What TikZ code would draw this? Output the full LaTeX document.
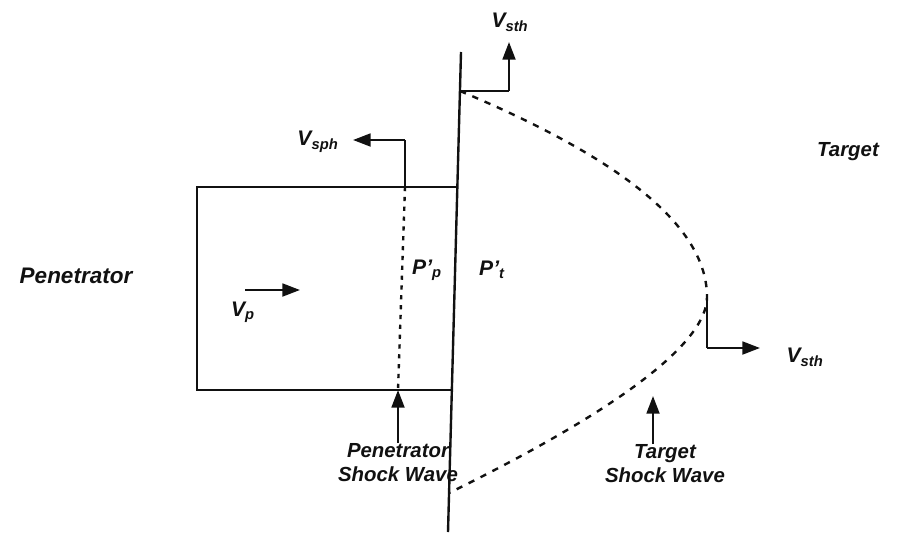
\documentclass[tikz,border=0pt]{standalone}
\usepackage{fontspec}
\setmainfont{Liberation Sans}
\usepackage{tikz}
\usetikzlibrary{arrows.meta,positioning,calc}
\definecolor{ink}{HTML}{111111}
\tikzset{
  wall/.style={draw=ink,line width=1.7pt},
  shockline/.style={draw=ink,line width=1.7pt,dash pattern=on 4.5pt off 5pt},
  pshock/.style={draw=ink,line width=1.7pt,dash pattern=on 3pt off 4pt},
  velarrow/.style={-{Triangle[length=4.4mm,width=3.2mm]},draw=ink,line width=1.7pt},
  biglabel/.style={font=\fontsize{16}{19}\selectfont\bfseries\itshape,text=ink,inner sep=0pt},
  smalllabel/.style={font=\fontsize{14.5}{17}\selectfont\bfseries\itshape,text=ink,inner sep=0pt,align=center},
  vlabel/.style={font=\fontsize{15}{18}\selectfont\bfseries\itshape,text=ink,inner sep=0pt}
}

\begin{document}
\begin{tikzpicture}[x=0.025cm,y=-0.025cm]
  \useasboundingbox (0,0) rectangle (898,532);

  % contact interface
  \coordinate (itop) at (461,52);
  \coordinate (ibot) at (448,532);
  \draw[wall] (itop) -- (ibot);

  % penetrator block
  \coordinate (rtl) at (197,187);
  \coordinate (rtr) at (457.3,187);
  \coordinate (rbl) at (197,390);
  \coordinate (rbr) at (451.9,390);
  \draw[wall] (rtr) -- (rtl) -- (rbl) -- (rbr);

  % penetrator shock wave
  \coordinate (pstop) at (405,187);
  \coordinate (psbot) at (398,390);
  \coordinate (pscorner) at (405,140);
  \coordinate (pstip) at (353,140);
  \draw[pshock] (pstop) -- (psbot);
  \draw[wall] (pstop) -- (pscorner);
  \draw[velarrow] (pscorner) -- (pstip);
  \node[vlabel] (vsph) at (318,142) {V\textsubscript{sph}};

  % target shock wave
  \coordinate (tstop) at (460,91);
  \coordinate (tsvert) at (707,297);
  \coordinate (tsbot) at (449,493);
  \draw[shockline] (tstop) .. controls (625,160) and (707,228) .. (tsvert)
    .. controls (707,342) and (622,408) .. (tsbot);

  \coordinate (upcorner) at (509,91);
  \coordinate (uptip) at (509,42);
  \draw[wall] (tstop) -- (upcorner);
  \draw[velarrow] (upcorner) -- (uptip);
  \node[vlabel] (vsthtop) at (510,22) {V\textsubscript{sth}};

  \coordinate (rtcorner) at (707,348);
  \coordinate (rttip) at (760,348);
  \draw[wall] (tsvert) -- (rtcorner);
  \draw[velarrow] (rtcorner) -- (rttip);
  \node[vlabel] (vsthright) at (805,357) {V\textsubscript{sth}};

  % region labels
  \node[biglabel] (pen) at (76,276) {Penetrator};
  \node[smalllabel] (tgt) at (848,152) {Target};
  \node[vlabel] (pp) at (427,270) {P\textquoteright\textsubscript{p}};
  \node[vlabel] (pt) at (492,270) {P\textquoteright\textsubscript{t}};

  % penetrator velocity
  \node[vlabel] (vp) at (243,312) {V\textsubscript{p}};
  \coordinate (vpstart) at (245,290);
  \coordinate (vptip) at (300,290);
  \draw[velarrow] (vpstart) -- (vptip);

  % shock wave callouts
  \node[smalllabel,anchor=north] (pswave) at (398,443) {Penetrator\\Shock Wave};
  \draw[velarrow] (pswave.north) -- (psbot);
  \node[smalllabel,anchor=north] (tswave) at (665,444) {Target\\Shock Wave};
  \coordinate (tsarrow) at (653,396);
  \draw[velarrow] (tswave.north -| tsarrow) -- (tsarrow);
\end{tikzpicture}
\end{document}
